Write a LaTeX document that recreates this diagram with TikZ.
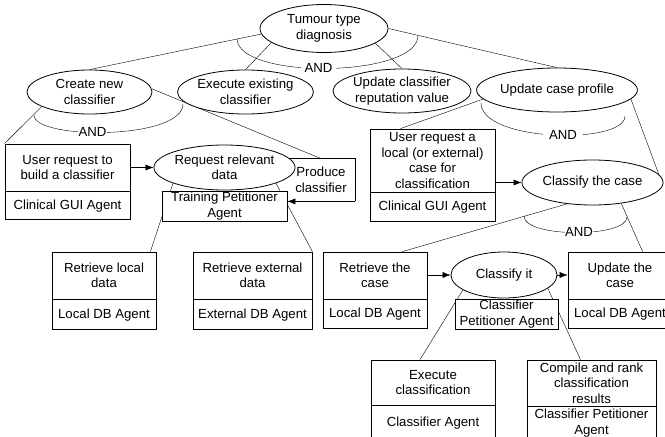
\documentclass[tikz,border=0pt]{standalone}
\usepackage{fontspec}
\setmainfont{Liberation Sans}
\usetikzlibrary{shapes.geometric,arrows.meta,calc,backgrounds}
\begin{document}
\begin{tikzpicture}[x=1pt,y=-1pt,line width=0.8pt,
  every node/.style={font=\fontsize{13.2}{15.5}\selectfont, align=center, inner sep=0pt},
  goal/.style={draw, ellipse, fill=white},
  part/.style={draw, rectangle, fill=white},
  arr/.style={-{Latex[length=8pt,width=6pt]}},
  andlbl/.style={fill=white, inner xsep=#1, inner ysep=1pt}]
\useasboundingbox (0,0) rectangle (665,437);
\clip (0,0) rectangle (665,437);

% goals (ellipses)
\node[goal, minimum width=128, minimum height=48] (tumour) at (324,28.5) {Tumour type\\diagnosis};
\node[goal, minimum width=125, minimum height=44] (create) at (89.5,92) {Create new\\classifier};
\node[goal, minimum width=125, minimum height=44] (execute) at (245.5,92) {Execute existing\\classifier};
\node[goal, minimum width=126, minimum height=44] (updrep) at (402,91) {Update classifier\\reputation value};
\node[goal, minimum width=127, minimum height=44] (updcase) at (557,90) {Update case profile};
\node[goal, minimum width=125, minimum height=45] (request) at (224.5,167.5) {Request relevant\\data};
\node[goal, minimum width=125, minimum height=45] (cc) at (592.5,182.5) {Classify the case};
\node[goal, minimum width=106, minimum height=46] (ci) at (504,275) {Classify it};

% boxes
\node[part, minimum width=125, minimum height=47] (ubuild) at (67.5,167.5) {User request to\\build a classifier};
\node[part, minimum width=125, minimum height=28, anchor=north] (ubuildA) at (ubuild.south) {Clinical GUI Agent};

\node[part, minimum width=125, minimum height=30] (training) at (224.5,206) {Training Petitioner\\Agent};
\node[minimum width=68, minimum height=42] (produce) at (321,180) {Produce\\classifier};

\node[part, minimum width=104, minimum height=47] (rlocal) at (104,275.5) {Retrieve local\\data};
\node[part, minimum width=104, minimum height=30, anchor=north] (rlocalA) at (rlocal.south) {Local DB Agent};

\node[part, minimum width=119, minimum height=47] (rext) at (252.5,275.5) {Retrieve external\\data};
\node[part, minimum width=119, minimum height=30, anchor=north] (rextA) at (rext.south) {External DB Agent};

\node[part, minimum width=125, minimum height=63] (ul) at (432.5,160.5) {User request a\\local (or external)\\case for\\classification};
\node[part, minimum width=125, minimum height=29, anchor=north] (ulA) at (ul.south) {Clinical GUI Agent};

\node[part, minimum width=104, minimum height=47] (rtc) at (375,275.5) {Retrieve the\\case};
\node[part, minimum width=104, minimum height=29, anchor=north] (rtcA) at (rtc.south) {Local DB Agent};

\node[part, minimum width=104, minimum height=47] (utc) at (620,275.5) {Update the\\case};
\node[part, minimum width=104, minimum height=29, anchor=north] (utcA) at (utc.south) {Local DB Agent};

\node[part, minimum width=103, minimum height=30] (cpa) at (506.5,314) {Classifier\\Petitioner Agent};

\node[part, minimum width=124, minimum height=45] (exec) at (433,382.5) {Execute\\classification};
\node[part, minimum width=124, minimum height=34, anchor=north] (execA) at (exec.south) {Classifier Agent};

\node[part, minimum width=129, minimum height=46] (compile) at (591.5,383) {Compile and rank\\classification\\results};
\node[part, minimum width=129, minimum height=33, anchor=north] (compileA) at (compile.south) {Classifier Petitioner\\Agent};

% AND labels
\node[andlbl=4pt] (and1) at (318.5,67.5) {AND};
\node[andlbl=0.5pt] (and2) at (92.5,132) {AND};
\node[andlbl=6pt] (and3) at (563,135) {AND};
\node[andlbl=0.5pt] (and4) at (579,232) {AND};

\begin{pgfonlayer}{background}
% decomposition links
\draw (tumour.185) -- (create.north);
\draw (tumour.195) -- (execute.north);
\draw (tumour.344) -- (updrep.north);
\draw (tumour.east) -- (updcase.north);
\draw (create.197) -- (ubuild.north west);
\draw (create.3) -- (produce.north);
\draw (request.197) -- ($(rlocal.north east)+(-6,0)$);
\draw (request.343) -- (rext.north east);
\draw (updcase.187) -- ($(ul.north)+(-32,0)$);
\draw (updcase.353) -- (cc.7);
\draw (cc.220) -- ($(rtc.north east)+(-25,0)$);
\draw (cc.324) -- ($(utc.north west)+(75,0)$);
\draw (ci.200) -- ($(exec.north)+(-13,0)$);
\draw (ci.343) -- ($(compile.north)+(-11,0)$);
% AND arcs
\draw (237,38.5) .. controls (237,80) and (418,78) .. (418,35.5);
\draw (34,115) .. controls (34,140) and (183,140) .. (183,104);
\draw (481,103) .. controls (481,142) and (625,145) .. (625,116);
\draw (524,216) .. controls (524,238) and (627,238) .. (627,217);
% produce box (open on the left)
\draw ([xshift=-8pt]produce.north west) -- (produce.north east) -- (produce.south east);
% arrows
\draw[arr] (produce.south east) -- (produce.south east -| training.east);
\draw[arr] (ubuild.east |- request.west) -- (request.west);
\draw[arr] (cc.west -| ul.east) -- (cc.west);
\draw[arr] (ci.west -| rtc.east) -- (ci.west);
\draw[arr] (ci.east) -- (ci.east -| utc.west);
\end{pgfonlayer}
\end{tikzpicture}
\end{document}
